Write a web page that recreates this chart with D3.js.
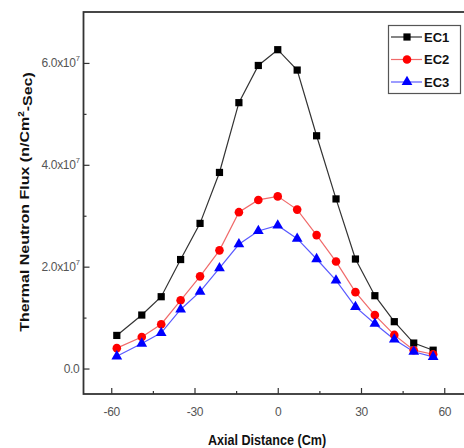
<!DOCTYPE html>
<html>
<head>
<meta charset="utf-8">
<script src="https://cdn.jsdelivr.net/npm/d3@7"></script>
<style>
  html, body { margin: 0; padding: 0; background: #fff; }
  svg { display: block; }
  .tick text { font-family: "Liberation Sans", Arial, sans-serif; fill: #555; }
</style>
</head>
<body>
<svg id="chart" width="464" height="448"></svg>
<script>
// Axial positions (cm)
const axialDistance = [-58, -49, -42, -35, -28, -21, -14, -7, 0, 7, 14, 21, 28, 35, 42, 49, 56];
// Thermal neutron flux, in units of 10^7 n/cm²-s
const ec1 = [0.65, 1.05, 1.41, 2.14, 2.85, 3.85, 5.22, 5.95, 6.26, 5.86, 4.57, 3.33, 2.15, 1.43, 0.92, 0.50, 0.36];
const ec2 = [0.40, 0.62, 0.87, 1.34, 1.81, 2.32, 3.07, 3.31, 3.38, 3.12, 2.62, 2.10, 1.50, 1.05, 0.66, 0.36, 0.28];
const ec3 = [0.24, 0.49, 0.70, 1.16, 1.51, 1.97, 2.44, 2.70, 2.81, 2.55, 2.15, 1.73, 1.21, 0.88, 0.57, 0.33, 0.23];
const seriesNames = ["EC1", "EC2", "EC3"];

const xMajorTicks = [-60, -30, 0, 30, 60];
const xMinorTicks = [-45, -15, 15, 45];
const yMajorTicks = [0, 2, 4, 6];
const yMinorTicks = [1, 3, 5];
const yTickMantissa = ["0.0", "2.0", "4.0", "6.0"];
const yTickExponent = "7";

const svg = d3.select("#chart");
const plotLeft = 83.5, plotRight = 472, plotTop = 12, plotBottom = 394;

const x = d3.scaleLinear().domain([-70, 70]).range([plotLeft, plotRight]);
const y = d3.scaleLinear().domain([-0.5, 7]).range([plotBottom, plotTop]);

const styles = [
  { values: ec1, line: "#333", fill: "#000", symbol: d3.symbolSquare, size: 52 },
  { values: ec2, line: "#f06a6a", fill: "#f00", symbol: d3.symbolCircle, size: 58 },
  { values: ec3, line: "#5a5aff", fill: "#00f", symbol: d3.symbolTriangle, size: 50 }
];

// Frame
svg.append("rect")
  .attr("x", plotLeft).attr("y", plotTop)
  .attr("width", plotRight - plotLeft).attr("height", plotBottom - plotTop)
  .attr("fill", "none").attr("stroke", "#333").attr("stroke-width", 1.8);

// X axis (ticks point inward)
const xAxis = svg.append("g").attr("transform", `translate(0,${plotBottom})`)
  .call(d3.axisBottom(x).tickValues(xMajorTicks).tickSizeInner(-6).tickSizeOuter(0).tickPadding(13)
    .tickFormat(d => d3.format("d")(d).replace("−", "-")));
xAxis.select(".domain").remove();
xAxis.selectAll(".tick line").attr("stroke", "#333").attr("stroke-width", 1.2);
xAxis.selectAll(".tick text").attr("font-size", 12).attr("letter-spacing", -0.3);
svg.append("g").attr("transform", `translate(0,${plotBottom})`)
  .call(d3.axisBottom(x).tickValues(xMinorTicks).tickSizeInner(-3).tickSizeOuter(0).tickFormat(""))
  .call(g => g.select(".domain").remove())
  .selectAll(".tick line").attr("stroke", "#333").attr("stroke-width", 1.2);

// Y axis (ticks point inward)
const yAxis = svg.append("g").attr("transform", `translate(${plotLeft},0)`)
  .call(d3.axisLeft(y).tickValues(yMajorTicks).tickSizeInner(-6).tickSizeOuter(0).tickPadding(10).tickFormat(""));
yAxis.select(".domain").remove();
yAxis.selectAll(".tick line").attr("stroke", "#333").attr("stroke-width", 1.2);
yAxis.selectAll(".tick text").each(function(d, i) {
  const t = d3.select(this)
    .attr("font-size", 12).attr("letter-spacing", -0.3).attr("x", -4).attr("dy", "0.32em");
  t.text(null);
  t.append("tspan").text(yTickMantissa[i] + (d === 0 ? "" : "x10"));
  if (d !== 0) {
    t.append("tspan").attr("font-size", 7.5).attr("dy", "-0.8em").text(yTickExponent);
  }
});
svg.append("g").attr("transform", `translate(${plotLeft},0)`)
  .call(d3.axisLeft(y).tickValues(yMinorTicks).tickSizeInner(-3).tickSizeOuter(0).tickFormat(""))
  .call(g => g.select(".domain").remove())
  .selectAll(".tick line").attr("stroke", "#333").attr("stroke-width", 1.2);

// Axis titles (slightly condensed horizontally)
svg.append("text")
  .attr("transform", `translate(267,445) scale(0.84,1)`)
  .attr("text-anchor", "middle")
  .attr("font-family", "Liberation Sans, Arial, sans-serif")
  .attr("font-weight", "bold").attr("font-size", 15).attr("fill", "#111")
  .text("Axial Distance (Cm)");

const yTitle = svg.append("text")
  .attr("transform", `translate(29,202) scale(0.84,1) rotate(-90)`)
  .attr("text-anchor", "middle")
  .attr("font-family", "Liberation Sans, Arial, sans-serif")
  .attr("font-weight", "bold").attr("font-size", 16).attr("fill", "#111");
yTitle.append("tspan").text("Thermal Neutron Flux (n/Cm");
yTitle.append("tspan").attr("font-size", 10).attr("dy", "-0.55em").text("2");
yTitle.append("tspan").attr("dy", "0.55em").text("-Sec)");

// Series
const line = d3.line().x((d, i) => x(axialDistance[i])).y(d => y(d));
styles.forEach(s => {
  svg.append("path").datum(s.values)
    .attr("d", line).attr("fill", "none")
    .attr("stroke", s.line).attr("stroke-width", 1.2);
});
styles.forEach(s => {
  svg.append("g").selectAll("path").data(s.values).join("path")
    .attr("transform", (d, i) => `translate(${x(axialDistance[i])},${y(d)})`)
    .attr("d", d3.symbol().type(s.symbol).size(s.size))
    .attr("fill", s.fill);
});

// Legend
const legend = svg.append("g");
legend.append("rect")
  .attr("x", 388.5).attr("y", 25.5).attr("width", 72).attr("height", 68)
  .attr("fill", "#fff").attr("stroke", "#555").attr("stroke-width", 1.2);
seriesNames.forEach((name, i) => {
  const s = styles[i];
  const cy = 37 + i * 22.5;
  legend.append("line")
    .attr("x1", 391).attr("x2", 422).attr("y1", cy).attr("y2", cy)
    .attr("stroke", s.line).attr("stroke-width", 1.2);
  legend.append("path")
    .attr("transform", `translate(407,${cy})`)
    .attr("d", d3.symbol().type(s.symbol).size(s.size))
    .attr("fill", s.fill);
  legend.append("text")
    .attr("x", 424).attr("y", cy).attr("dy", "0.36em")
    .attr("font-family", "Liberation Sans, Arial, sans-serif")
    .attr("font-weight", "bold").attr("font-size", 13).attr("fill", "#111")
    .text(name);
});
</script>
</body>
</html>
